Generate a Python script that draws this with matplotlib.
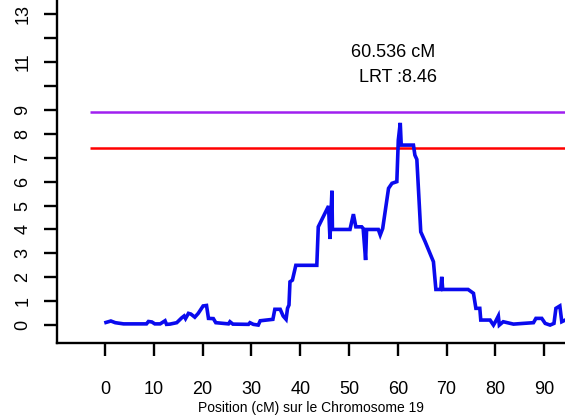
import matplotlib
matplotlib.use("Agg")
import matplotlib.pyplot as plt

plt.rcParams['font.family'] = ['Liberation Sans', 'DejaVu Sans']

# profil LRT le long du chromosome 19
pos = [0.2, 1.2, 2.1, 3.8, 6.1, 8.5, 8.9, 9.6, 10.2, 11.3, 12.3, 12.6, 13.3, 14.7,
       15.7, 16.2, 16.5, 17.1, 17.6, 18.4, 19.1, 20.1, 20.8, 21.2, 22.2, 22.7, 25.3,
       25.6, 26.2, 29.4, 29.7, 30.4, 31.4, 31.8, 33.1, 34.4, 34.8, 35.9, 36.5, 37.1,
       37.4, 37.7, 37.9, 38.4, 39.1, 43.4, 43.7, 45.8, 46.1, 46.5, 46.6, 50.2, 50.9,
       51.4, 52.6, 52.9, 53.4, 53.6, 56.0, 56.4, 56.9, 58.1, 58.8, 59.8, 60.1, 60.5,
       60.7, 63.2, 63.5, 63.9, 64.7, 65.6, 67.3, 67.8, 68.8, 69.0, 69.2, 74.4, 75.5,
       76.0, 76.8, 77.0, 78.9, 79.6, 80.0, 80.6, 80.8, 81.6, 83.7, 85.7, 87.8, 88.3,
       89.5, 90.2, 91.2, 92.0, 92.4, 93.2, 93.6, 94.3]
lrt = [0.11, 0.17, 0.1, 0.05, 0.05, 0.05, 0.15, 0.13, 0.05, 0.05, 0.18, 0.03, 0.04, 0.1,
       0.3, 0.38, 0.27, 0.49, 0.46, 0.33, 0.49, 0.8, 0.82, 0.28, 0.27, 0.1, 0.05,
       0.14, 0.04, 0.03, 0.1, 0.03, 0.0, 0.18, 0.21, 0.24, 0.66, 0.66, 0.38, 0.24,
       0.7, 0.84, 1.81, 1.88, 2.5, 2.5, 4.11, 4.98, 3.6, 5.62, 4.0, 4.0, 4.64,
       4.11, 4.11, 4.04, 2.72, 4.0, 4.0, 3.77, 4.04, 5.72, 5.93, 6.0, 7.74, 8.46,
       7.53, 7.53, 7.11, 6.93, 3.9, 3.49, 2.65, 1.49, 1.49, 2.02, 1.49, 1.49, 1.33,
       0.7, 0.7, 0.21, 0.21, 0.0, 0.14, 0.38, 0.0, 0.14, 0.04, 0.07, 0.1, 0.28,
       0.28, 0.07, 0.0, 0.07, 0.7, 0.8, 0.14, 0.21]

seuil_haut = 8.9
seuil_bas = 7.4
xticks = list(range(0, 100, 10))
yticks = [0, 1, 2, 3, 4, 5, 6, 7, 8, 9, 10, 11, 12, 13]
ylabels = ['0', '1', '2', '3', '4', '5', '6', '7', '8', '9', '', '11', '', '13']

fig = plt.figure(figsize=(5.65, 4.16), dpi=100)
ax = fig.add_axes([57 / 565, 1 - 343 / 416, 1 - 57 / 565, 343 / 416])

ax.hlines(seuil_haut, -3, 95, color='#a020f0', lw=1.8)
ax.hlines(seuil_bas, -3, 95, color='red', lw=1.8)
ax.plot(pos, lrt, color='#0a0aee', lw=2.6, solid_joinstyle='miter')

ax.text(59, 11.4, '60.536 cM', ha='center', va='center', fontsize=13)
ax.text(60, 10.35, 'LRT :8.46', ha='center', va='center', fontsize=13)

ax.set_xlim(-9.84, 94.26)
ax.set_ylim(-0.75, 13.6)
ax.spines['top'].set_visible(False)
ax.spines['right'].set_visible(False)
ax.spines['left'].set_linewidth(1.7)
ax.spines['bottom'].set_linewidth(1.7)

ax.set_xticks(xticks)
ax.set_yticks(yticks)
ax.set_yticklabels(ylabels, rotation=90, va='center')
ax.tick_params(axis='both', length=9.5, width=1.7, labelsize=13)
ax.tick_params(axis='x', pad=18)
ax.tick_params(axis='y', pad=9)
ax.set_xlabel('Position (cM) sur le Chromosome 19', fontsize=10, labelpad=2)

fig.savefig('out.png', dpi=100, facecolor='white')
